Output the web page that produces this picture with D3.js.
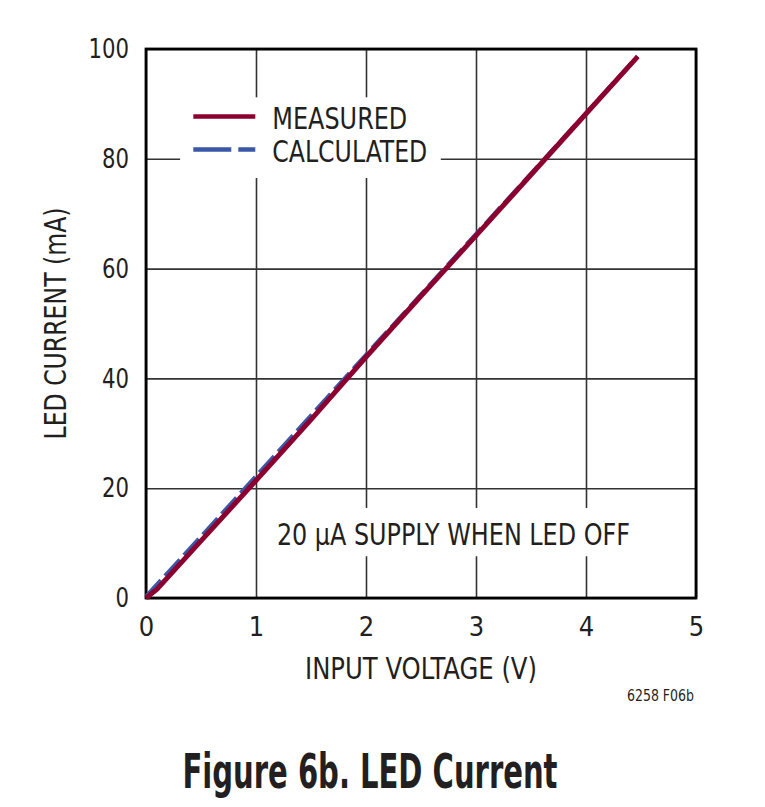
<!DOCTYPE html>
<html>
<head>
<meta charset="utf-8">
<script src="https://cdn.jsdelivr.net/npm/d3@7"></script>
<style>
  body { margin: 0; background: #fff; }
  text { font-family: "Liberation Sans Narrow", "Arial Narrow", "DejaVu Sans Condensed", sans-serif; fill: #231f20; }
</style>
</head>
<body>
<svg id="chart"></svg>
<script>
// measured LED current vs input voltage
const measuredV = [0, 0.1, 0.5, 1, 1.5, 2, 2.5, 3, 3.5, 4, 4.47];
const measuredI = [0, 1.6, 10.4, 21.4, 32.5, 43.9, 55.0, 66.0, 77.1, 88.2, 98.6];
// calculated curve
const calculatedV = [0, 0.5, 1, 2, 3, 4, 4.47];
const calculatedI = [0.3, 11.2, 22.2, 44.3, 66.3, 88.3, 98.7];

const xTicks = [0, 1, 2, 3, 4, 5];
const yTicks = [0, 20, 40, 60, 80, 100];
const seriesNames = ["MEASURED", "CALCULATED"];

const W = 765, H = 807;
const margin = { top: 49, right: 69, bottom: 209, left: 146 };
const width = W - margin.left - margin.right;
const height = H - margin.top - margin.bottom;

const red = "#8c0030", blue = "#3b58a6";

const svg = d3.select("#chart").attr("width", W).attr("height", H);
const g = svg.append("g").attr("transform", `translate(${margin.left},${margin.top})`);

const x = d3.scaleLinear().domain([0, 5]).range([0, width]);
const y = d3.scaleLinear().domain([0, 100]).range([height, 0]);

// grid
g.append("g")
  .call(d3.axisBottom(x).tickValues(xTicks).tickSize(-height).tickFormat(""))
  .attr("transform", `translate(0,${height})`)
  .call(a => a.select(".domain").remove())
  .selectAll("line").attr("stroke", "#333").attr("stroke-width", 1.6);
g.append("g")
  .call(d3.axisLeft(y).tickValues(yTicks).tickSize(-width).tickFormat(""))
  .call(a => a.select(".domain").remove())
  .selectAll("line").attr("stroke", "#333").attr("stroke-width", 1.6);

// white boxes behind the legend and note
g.append("rect").attr("x", x(0.31)).attr("y", y(91.2)).attr("width", x(2.68) - x(0.31))
  .attr("height", y(76.5) - y(91.2)).attr("fill", "#fff");
g.append("rect").attr("x", x(1.08)).attr("y", y(16.4)).attr("width", x(4.45) - x(1.08))
  .attr("height", y(7.6) - y(16.4)).attr("fill", "#fff");

// frame
g.append("rect").attr("width", width).attr("height", height)
  .attr("fill", "none").attr("stroke", "#000").attr("stroke-width", 2.8);

// tick labels
const xAxis = g.append("g").attr("transform", `translate(0,${height})`)
  .call(d3.axisBottom(x).tickValues(xTicks).tickSize(0).tickPadding(19).tickFormat(d3.format("d")));
xAxis.select(".domain").remove();
xAxis.selectAll("text").style("font-size", "27px").attr("fill", "#231f20");

const yAxis = g.append("g")
  .call(d3.axisLeft(y).tickValues(yTicks).tickSize(0).tickPadding(17).tickFormat(d3.format("d")));
yAxis.select(".domain").remove();
yAxis.selectAll("text").style("font-size", "27px").attr("fill", "#231f20")
  .attr("textLength", d => String(d).length * 13.5).attr("lengthAdjust", "spacingAndGlyphs");

// curves
const line = d3.line().x(d => x(d[0])).y(d => y(d[1]));
g.append("path")
  .datum(calculatedV.map((v, i) => [v, calculatedI[i]]))
  .attr("d", line).attr("fill", "none").attr("stroke", blue)
  .attr("stroke-width", 4).attr("stroke-dasharray", "22,6");
g.append("path")
  .datum(measuredV.map((v, i) => [v, measuredI[i]]))
  .attr("d", line).attr("fill", "none").attr("stroke", red)
  .attr("stroke-width", 5);

// legend
const legend = g.append("g").attr("transform", `translate(${x(0.43)},${y(87.7)})`);
const colors = [red, blue];
const dashes = [null, "38,7"];
const labelWidths = [135, 155];
seriesNames.forEach((name, i) => {
  const row = legend.append("g").attr("transform", `translate(0,${i * 33})`);
  row.append("line").attr("x1", 0).attr("x2", 62)
    .attr("stroke", colors[i]).attr("stroke-width", 4.5)
    .attr("stroke-dasharray", dashes[i]);
  row.append("text").attr("x", 79).attr("y", 12).style("font-size", "30px")
    .attr("textLength", labelWidths[i]).attr("lengthAdjust", "spacingAndGlyphs")
    .text(name);
});

// note
g.append("text").attr("x", x(1.19)).attr("y", y(9.6))
  .style("font-size", "30px").attr("textLength", 353).attr("lengthAdjust", "spacingAndGlyphs")
  .text("20 µA SUPPLY WHEN LED OFF");

// axis titles
svg.append("text")
  .attr("x", margin.left + width / 2).attr("y", 679)
  .attr("text-anchor", "middle").style("font-size", "30px")
  .attr("textLength", 232).attr("lengthAdjust", "spacingAndGlyphs")
  .text("INPUT VOLTAGE (V)");
svg.append("text")
  .attr("transform", `translate(66,${margin.top + height / 2}) rotate(-90)`)
  .attr("text-anchor", "middle").style("font-size", "30px")
  .attr("textLength", 232).attr("lengthAdjust", "spacingAndGlyphs")
  .text("LED CURRENT (mA)");

svg.append("text").attr("x", 694).attr("y", 701).attr("text-anchor", "end")
  .style("font-size", "16px").attr("textLength", 67).attr("lengthAdjust", "spacingAndGlyphs")
  .text("6258 F06b");

svg.append("text").attr("x", 370).attr("y", 788).attr("text-anchor", "middle")
  .style("font-size", "48px").style("font-weight", "bold").attr("fill", "#000")
  .attr("textLength", 375).attr("lengthAdjust", "spacingAndGlyphs")
  .text("Figure 6b. LED Current");
</script>
</body>
</html>
